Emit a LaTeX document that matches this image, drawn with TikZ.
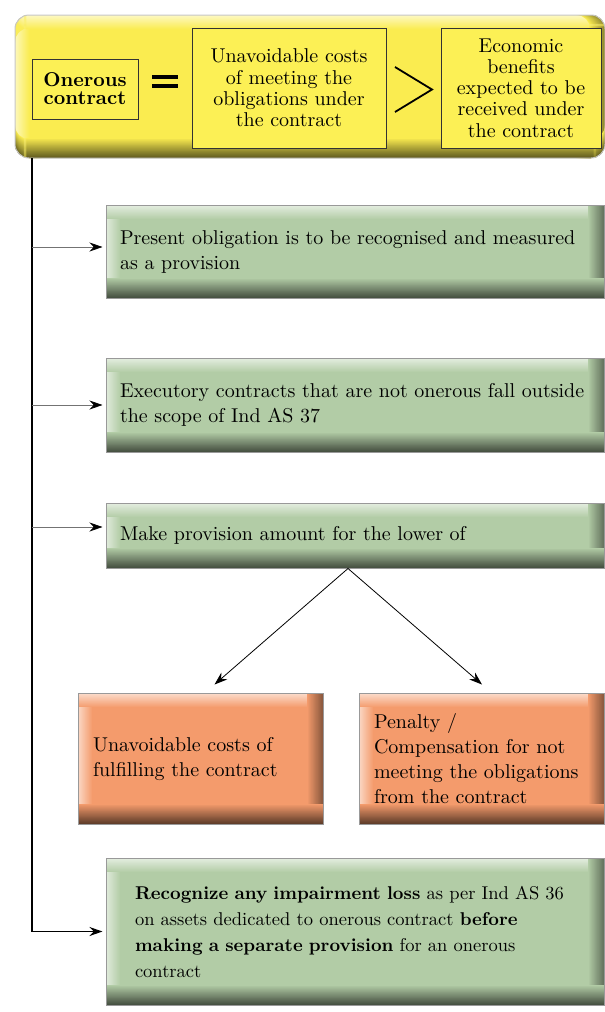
\documentclass[tikz,border=0pt]{standalone}
\usepackage{fontspec}
\setmainfont{lmroman10-regular}[Extension=.otf, BoldFont=lmroman10-bold]
\usepackage{tikz}
\usetikzlibrary{arrows.meta}

\definecolor{bannery}{RGB}{250,236,80}
\definecolor{boxy}{RGB}{252,240,85}
\definecolor{sage}{RGB}{178,204,166}
\definecolor{salmon}{RGB}{244,155,108}

\newcommand{\lowfont}{\fontsize{20}{25}\selectfont}
\newcommand{\topfont}{\fontsize{20}{21.3}\selectfont}

\newcommand{\bevelpaint}[1]{%
  \foreach \k in {0,...,13}{%
    \pgfmathtruncatemacro{\mixa}{40+60*\k/14}%
    \pgfmathsetmacro{\kk}{\k+1.3}%
    \fill[#1!\mixa!white] ([xshift=\k pt]path picture bounding box.north west) rectangle ([xshift=\kk pt]path picture bounding box.south west);
  }%
  \foreach \k in {0,...,13}{%
    \pgfmathtruncatemacro{\mixa}{35+65*\k/14}%
    \pgfmathsetmacro{\kk}{\k+1.3}%
    \fill[#1!\mixa!white] ([yshift=-\k pt]path picture bounding box.north west) rectangle ([yshift=-\kk pt]path picture bounding box.north east);
  }%
  \foreach \k in {0,...,15}{%
    \pgfmathtruncatemacro{\mixb}{100-42*\k/15}%
    \pgfmathsetmacro{\kk}{16-\k}%
    \pgfmathsetmacro{\kj}{14.7-\k}%
    \fill[#1!\mixb!black] ([xshift=-\kk pt]path picture bounding box.north east) rectangle ([xshift=-\kj pt]path picture bounding box.south east);
  }%
  \foreach \k in {0,...,19}{%
    \pgfmathtruncatemacro{\mixb}{100-60*\k/19}%
    \pgfmathsetmacro{\kk}{20-\k}%
    \pgfmathsetmacro{\kj}{18.7-\k}%
    \fill[#1!\mixb!black] ([yshift=\kk pt]path picture bounding box.south west) rectangle ([yshift=\kj pt]path picture bounding box.south east);
  }%
}

\tikzset{
  bevel/.style={fill=#1, draw=gray!80, line width=1pt, path picture={\bevelpaint{#1}}},
  greenbox/.style={bevel=sage, minimum width=498pt, text width=470pt, inner xsep=14pt,
    align=left, font=\lowfont},
  salmonbox/.style={bevel=salmon, minimum width=245pt, minimum height=131pt, text width=215pt,
    inner xsep=15pt, align=left, font=\lowfont},
  ybox/.style={fill=boxy, draw=black!80, line width=0.8pt, align=center, font=\topfont},
  arr/.style={-{Stealth[length=13pt,width=9pt,color=black]}, line width=0.8pt},
  branch/.style={arr, draw=black!55},
  trunkline/.style={arr, line width=1.3pt}
}

\begin{document}
\begin{tikzpicture}[x=1pt,y=1pt]
\useasboundingbox (0,0) rectangle (605,-1012);

\node[bevel=bannery, draw=gray!45, rounded corners=14pt, minimum width=590pt, minimum height=143pt] (banner) at (310,-86.5) {};
\node[ybox, minimum width=106pt, minimum height=60pt, font=\fontsize{20}{18}\selectfont\bfseries] (onerous) at (85,-89) {Onerous\\contract};
\draw[line width=4pt] (152,-77) -- (178,-77);
\draw[line width=4pt] (152,-86) -- (178,-86);
\node[ybox, minimum width=194pt, minimum height=120pt, text width=180pt] (costs) at (289,-88) {Unavoidable costs\\of meeting the\\obligations under\\the contract};
\draw[line width=1.8pt] (395,-67) -- (432,-89.5) -- (395,-112);
\node[ybox, minimum width=160pt, minimum height=120pt, text width=150pt] (benefits) at (521,-88) {Economic\\benefits\\expected to be\\received under\\the contract};

\node[greenbox, minimum height=93pt] (g1) at (355,-251.5) {Present obligation is to be recognised and measured\\as a provision};
\node[greenbox, minimum height=94pt] (g2) at (355,-405) {Executory contracts that are not onerous fall outside\\the scope of Ind AS 37};
\node[greenbox, minimum height=65pt] (g3) at (355,-535.5) {Make provision amount for the lower of};
\node[salmonbox] (o1) at (200.5,-758.5) {Unavoidable costs of\\fulfilling the contract};
\node[salmonbox] (o2) at (481.5,-758.5) {Penalty /\\Compensation for not\\meeting the obligations\\from the contract};
\node[greenbox, minimum height=147pt, text width=440pt, inner xsep=29pt, font=\fontsize{18.5}{26}\selectfont] (g4) at (355,-931.5) {\textbf{Recognize any impairment loss} as per Ind AS 36\\on assets dedicated to onerous contract \textbf{before}\\\textbf{making a separate provision} for an onerous\\contract};

\coordinate (trunk) at (32,-158);
\draw[trunkline, shorten >=3pt] (trunk) |- (g4.west);
\draw[branch, shorten >=3pt] (trunk |- 0,-247) -- ([yshift=4.5pt]g1.west);
\draw[branch, shorten >=3pt] (trunk |- g2.west) -- (g2.west);
\draw[branch, shorten >=3pt] (trunk |- 0,-527) -- ([yshift=8.5pt]g3.west);
\draw[arr] ([xshift=-7pt]g3.south) -- ([xshift=14pt,yshift=8pt]o1.north);
\draw[arr] ([xshift=-7pt]g3.south) -- ([xshift=0.5pt,yshift=8pt]o2.north);
\end{tikzpicture}
\end{document}
